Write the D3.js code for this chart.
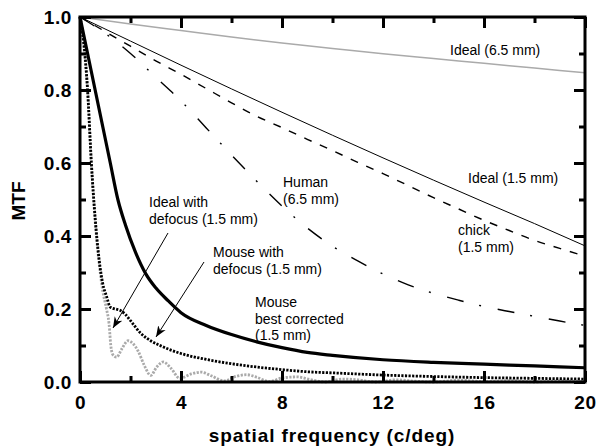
<!DOCTYPE html>
<html>
<head>
<meta charset="utf-8">
<script src="https://cdn.jsdelivr.net/npm/d3@7"></script>
<style>
  body { margin: 0; background: #fff; }
  svg { display: block; font-family: "Liberation Sans", Arial, sans-serif; }
  .tick text { font-weight: bold; font-size: 19px; letter-spacing: 0.6px; fill: #000; }
  .tick line { stroke: #000; stroke-width: 3; }
  .domain { display: none; }
  .note { font-size: 14px; fill: #000; }
</style>
</head>
<body>
<svg width="597" height="448"></svg>
<script>
// spatial frequency (c/deg) and MTF for each curve
const idealWideX = [0, 2, 4, 6, 8, 10, 12, 14, 16, 18, 20];
const idealWide  = [1.0, 0.981, 0.963, 0.945, 0.929, 0.914, 0.899, 0.886, 0.873, 0.86, 0.847];

const idealNarrowX = [0, 2, 4, 6, 8, 10, 12, 14, 16, 18, 20];
const idealNarrow  = [1.0, 0.934, 0.868, 0.803, 0.739, 0.676, 0.614, 0.553, 0.493, 0.434, 0.373];

const chickX = [0, 1, 2, 3, 4, 5, 6, 7, 8, 9, 10, 11, 12, 13, 14, 15, 16, 17, 18, 19, 20];
const chick  = [1.0, 0.96, 0.92, 0.88, 0.843, 0.804, 0.765, 0.728, 0.697, 0.665, 0.634, 0.602, 0.571, 0.538, 0.505, 0.474, 0.443, 0.415, 0.388, 0.366, 0.345];

const humanX = [0, 1, 2, 3, 4, 5, 6, 7, 8, 9, 10, 11, 12, 13, 14, 15, 16, 17, 18, 19, 20];
const human  = [1.0, 0.955, 0.90, 0.835, 0.77, 0.696, 0.622, 0.55, 0.482, 0.422, 0.372, 0.332, 0.296, 0.266, 0.243, 0.224, 0.207, 0.193, 0.18, 0.167, 0.155];

const mouseBestX = [0, 0.3, 0.6, 0.9, 1.2, 1.5, 1.8, 2.2, 2.6, 3, 3.5, 4, 5, 6, 7, 8, 9, 10, 12, 14, 16, 18, 20];
const mouseBest  = [1.0, 0.9, 0.8, 0.7, 0.6, 0.5, 0.43, 0.355, 0.297, 0.258, 0.222, 0.19, 0.155, 0.13, 0.11, 0.094, 0.081, 0.073, 0.061, 0.054, 0.049, 0.044, 0.039];

const mouseDefocX = [0, 0.15, 0.3, 0.45, 0.6, 0.75, 0.9, 1.05, 1.2, 1.4, 1.6, 1.8, 2.0, 2.4, 2.8, 3.2, 4, 5, 6, 7, 8, 9, 10, 12, 14, 16, 18, 20];
const mouseDefoc  = [1.0, 0.93, 0.8, 0.6, 0.45, 0.34, 0.27, 0.235, 0.205, 0.2, 0.196, 0.185, 0.168, 0.134, 0.113, 0.099, 0.078, 0.062, 0.05, 0.041, 0.034, 0.028, 0.025, 0.019, 0.015, 0.012, 0.01, 0.008];

const idealDefocX = [0, 0.15, 0.3, 0.45, 0.6, 0.75, 0.9, 1.05, 1.15, 1.22, 1.3, 1.45, 1.65, 1.9, 2.1, 2.3, 2.55, 2.8, 3.05, 3.3, 3.6, 3.95, 4.4, 4.8, 5.2, 5.7, 6.2, 6.6, 7.0, 7.5, 8.0, 8.6, 9.1, 9.7, 10.4, 11.0, 11.7, 12.5, 13.3, 14, 15, 16, 17, 18, 19, 20];
const idealDefoc  = [1.0, 0.92, 0.8, 0.6, 0.44, 0.33, 0.25, 0.2, 0.16, 0.1, 0.075, 0.068, 0.09, 0.113, 0.105, 0.085, 0.045, 0.018, 0.042, 0.055, 0.038, 0.01, 0.022, 0.027, 0.017, 0.003, 0.016, 0.02, 0.013, 0.001, 0.011, 0.014, 0.007, 0.0, 0.008, 0.006, 0.0, 0.006, 0.002, 0.0, 0.005, 0.001, 0.004, 0.0, 0.003, 0.001];

const xMajor = [0, 4, 8, 12, 16, 20];
const xMinor = [2, 6, 10, 14, 18];
const yMajor = [0, 0.2, 0.4, 0.6, 0.8, 1.0];
const yMinor = [0.1, 0.3, 0.5, 0.7, 0.9];

const svg = d3.select("svg");
const box = { left: 80, right: 585, top: 17, bottom: 382 };

const x = d3.scaleLinear().domain([0, 20]).range([box.left, box.right]);
const y = d3.scaleLinear().domain([0, 1]).range([box.bottom, box.top]);

// curves
const line = d3.line().x(d => x(d[0])).y(d => y(d[1])).curve(d3.curveMonotoneX);
const curves = [
  { xs: idealWideX, ys: idealWide, stroke: "#aaa", w: 1.5, dash: null },
  { xs: idealNarrowX, ys: idealNarrow, stroke: "#000", w: 1, dash: null },
  { xs: chickX, ys: chick, stroke: "#000", w: 1.4, dash: "8,9" },
  { xs: humanX, ys: human, stroke: "#000", w: 1.4, dash: "17,16,2,17" },
  { xs: idealDefocX, ys: idealDefoc, stroke: "#aaa", w: 2.8, dash: "2.2,1.4" },
  { xs: mouseDefocX, ys: mouseDefoc, stroke: "#000", w: 2.8, dash: "2.2,1.4" },
  { xs: mouseBestX, ys: mouseBest, stroke: "#000", w: 3.2, dash: null }
];
svg.append("g").selectAll("path")
  .data(curves)
  .enter()
  .append("path")
  .attr("d", c => line(c.xs.map((v, i) => [v, c.ys[i]])))
  .attr("fill", "none")
  .attr("stroke", c => c.stroke)
  .attr("stroke-width", c => c.w)
  .attr("stroke-dasharray", c => c.dash);

// axes, ticks inside on all four sides
const tk = 11, tm = 6;
svg.append("g").attr("transform", `translate(0,${box.bottom})`)
  .call(d3.axisBottom(x).tickValues(xMajor).tickSize(-tk).tickPadding(14).tickFormat(d3.format("d")));
svg.append("g").attr("transform", `translate(0,${box.bottom})`)
  .call(d3.axisBottom(x).tickValues(xMinor).tickSize(-tm).tickFormat(""));
svg.append("g").attr("transform", `translate(0,${box.top})`)
  .call(d3.axisTop(x).tickValues(xMajor).tickSize(-tk).tickFormat(""));
svg.append("g").attr("transform", `translate(0,${box.top})`)
  .call(d3.axisTop(x).tickValues(xMinor).tickSize(-tm).tickFormat(""));
svg.append("g").attr("transform", `translate(${box.left},0)`)
  .call(d3.axisLeft(y).tickValues(yMajor).tickSize(-tk).tickPadding(8).tickFormat(d3.format(".1f")));
svg.append("g").attr("transform", `translate(${box.left},0)`)
  .call(d3.axisLeft(y).tickValues(yMinor).tickSize(-tm).tickFormat(""));
svg.append("g").attr("transform", `translate(${box.right},0)`)
  .call(d3.axisRight(y).tickValues(yMajor).tickSize(-tk).tickFormat(""));
svg.append("g").attr("transform", `translate(${box.right},0)`)
  .call(d3.axisRight(y).tickValues(yMinor).tickSize(-tm).tickFormat(""));

svg.append("rect")
  .attr("x", box.left).attr("y", box.top)
  .attr("width", box.right - box.left).attr("height", box.bottom - box.top)
  .attr("fill", "none").attr("stroke", "#000").attr("stroke-width", 3);

// axis titles
svg.append("text")
  .attr("transform", "translate(25,201) rotate(-90)")
  .attr("text-anchor", "middle")
  .style("font-weight", "bold").style("font-size", "19px")
  .text("MTF");
svg.append("text")
  .attr("x", 332).attr("y", 442)
  .attr("text-anchor", "middle")
  .style("font-weight", "bold").style("font-size", "19px").style("letter-spacing", "0.9px")
  .text("spatial frequency (c/deg)");

// curve labels
const notes = [
  { x: 450, y: 55, lines: ["Ideal (6.5 mm)"] },
  { x: 468, y: 183, lines: ["Ideal (1.5 mm)"] },
  { x: 283, y: 187, lines: ["Human", "(6.5 mm)"] },
  { x: 458, y: 235, lines: ["chick", "(1.5 mm)"] },
  { x: 149, y: 207, lines: ["Ideal with", "defocus (1.5 mm)"] },
  { x: 213, y: 257, lines: ["Mouse with", "defocus (1.5 mm)"] },
  { x: 255, y: 307, lines: ["Mouse", "best corrected", "(1.5 mm)"] }
];
notes.forEach(n => {
  const t = svg.append("text").attr("class", "note").attr("x", n.x).attr("y", n.y);
  n.lines.forEach((s, i) => t.append("tspan").attr("x", n.x).attr("dy", i ? 16.5 : 0).text(s));
});

// arrows
svg.append("defs").append("marker")
  .attr("id", "head").attr("viewBox", "0 0 10 10")
  .attr("refX", 10).attr("refY", 5)
  .attr("markerWidth", 11).attr("markerHeight", 11)
  .attr("markerUnits", "userSpaceOnUse")
  .attr("orient", "auto")
  .append("path").attr("d", "M0,1 L10,5 L0,9 L3,5 Z").attr("fill", "#000");

[[168, 233, 113, 328], [204, 262, 156, 337]].forEach(a => {
  svg.append("line")
    .attr("x1", a[0]).attr("y1", a[1]).attr("x2", a[2]).attr("y2", a[3])
    .attr("stroke", "#000").attr("stroke-width", 1)
    .attr("marker-end", "url(#head)");
});
</script>
</body>
</html>
